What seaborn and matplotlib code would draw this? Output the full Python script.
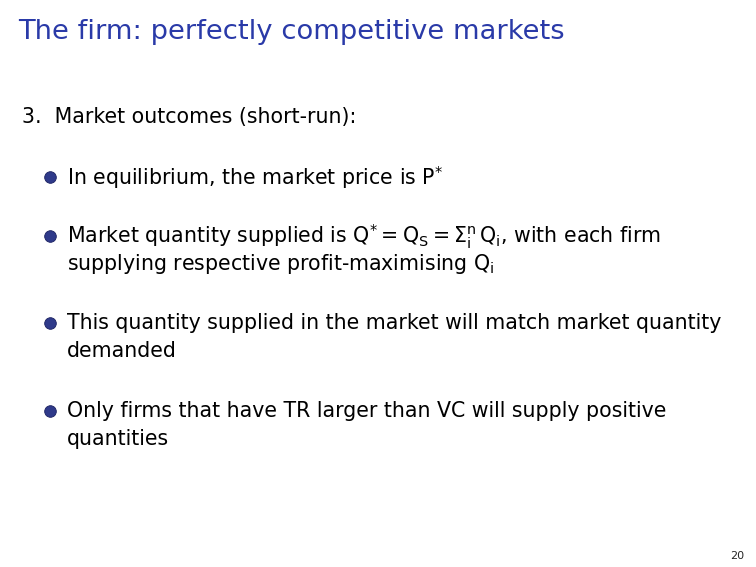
import matplotlib
matplotlib.use("Agg")
import matplotlib.pyplot as plt
import seaborn as sns

sns.set_style("white")
plt.rcParams['font.family'] = ['DejaVu Sans']
plt.rcParams['mathtext.fontset'] = 'dejavusans'

title = "The firm: perfectly competitive markets"
heading = "3.  Market outcomes (short-run):"
bullets = [
    ["In equilibrium, the market price is $\\mathrm{P}^{*}$"],
    [r"Market quantity supplied is $\mathrm{Q}^{*} = \mathrm{Q}_\mathrm{S} = \Sigma_\mathrm{i}^\mathrm{n}\,\mathrm{Q}_\mathrm{i}$, with each firm",
     r"supplying respective profit-maximising $\mathrm{Q}_\mathrm{i}$"],
    ["This quantity supplied in the market will match market quantity",
     "demanded"],
    ["Only firms that have TR larger than VC will supply positive",
     "quantities"],
]
bullet_y = [177, 236, 323, 411]
page = "20"

fig = plt.figure(figsize=(7.56, 5.67), dpi=100)
ax = fig.add_axes([0, 0, 1, 1])
ax.set_xlim(0, 756)
ax.set_ylim(567, 0)
ax.axis("off")

ax.text(18, 32, title, color="#2a3aa8", fontsize=19.7, va="center", ha="left")
ax.text(22, 117, heading, color="black", fontsize=14.8, va="center", ha="left")

ax.scatter([50] * len(bullet_y), bullet_y, s=70, color="#2f3a8a",
           edgecolor="#1a2060", linewidth=0.6, zorder=3)
for y, lines in zip(bullet_y, bullets):
    for k, line in enumerate(lines):
        ax.text(67, y + k * 28, line, color="black", fontsize=14.8,
                va="center", ha="left")

ax.text(744, 556, page, fontsize=8, ha="right", va="center")

fig.savefig("out.png", dpi=100)
